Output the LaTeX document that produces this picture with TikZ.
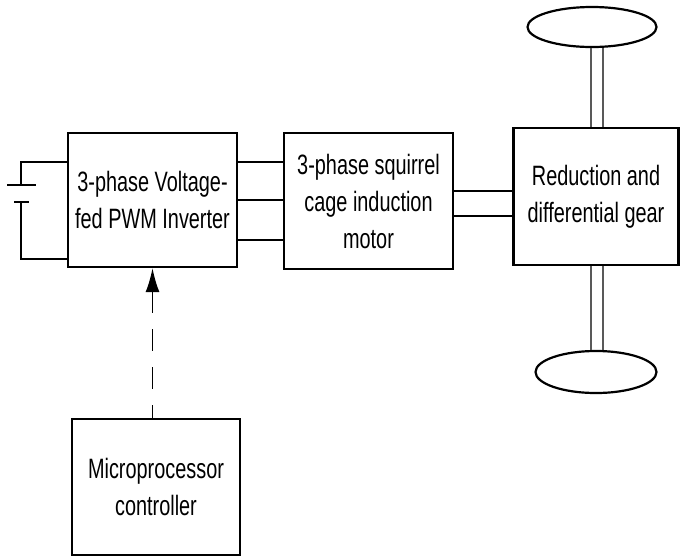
\documentclass[tikz,border=0pt]{standalone}
\usepackage{fontspec}
\setmainfont{Liberation Sans}[FakeStretch=0.71]
\usepackage{tikz}
\usetikzlibrary{arrows.meta,shapes.geometric,positioning}

\begin{document}
\begin{tikzpicture}[x=1pt,y=-1pt,
  blk/.style={draw,line width=2.2pt,align=center,inner sep=0pt,
    font=\fontsize{28}{37}\selectfont},
  wheel/.style={draw,ellipse,line width=2.2pt,inner sep=0pt},
  wire/.style={line width=2.2pt},
  shaft/.style={line width=1.5pt,gray!70!black},
  ctrl/.style={line width=1.6pt,dash pattern=on 22pt off 16pt,
    {Latex[length=24pt,width=14pt]}-}]
\useasboundingbox (0,0) rectangle (680,557);
% blocks
\node[blk,minimum width=169pt,minimum height=134pt](inv) at (152.5,200)
  {3-phase Voltage-\\fed PWM Inverter};
\node[blk,minimum width=169pt,minimum height=136pt](mot) at (368.5,201)
  {3-phase squirrel\\cage induction\\motor};
\node[blk,minimum width=165pt,minimum height=137pt](gear) at (596,196.5)
  {Reduction and\\differential gear};
\node[blk,minimum width=168pt,minimum height=136pt](mic) at (156,487)
  {Microprocessor\\controller};
% wheels
\node[wheel,minimum width=129pt,minimum height=40pt](wt) at (592,27){};
\node[wheel,minimum width=121pt,minimum height=42pt](wb) at (596,372){};
% battery
\coordinate (bp) at (21,185);
\coordinate (bn) at (21,202);
\draw[wire]([yshift=38pt]inv.west)-|(bp);
\draw[wire]([xshift=-14pt]bp)--([xshift=15pt]bp);
\draw[wire]([xshift=-7pt]bn)--([xshift=8pt]bn);
\draw[wire](bn)|-([yshift=-59pt]inv.west);
% three phases
\foreach \s in {38,0,-40}
  \draw[wire]([yshift=\s pt]inv.east)--([yshift=\s pt]inv.east -| mot.west);
% motor shaft
\foreach \s in {10,-15}
  \draw[wire]([yshift=\s pt]mot.east)--([yshift=\s pt]mot.east -| gear.west);
% axles
\foreach \s in {-5,7}{
  \draw[shaft]([xshift=\s pt]gear.north)--([xshift=\s pt]gear.north |- wt.south);
  \draw[shaft]([xshift=\s pt]gear.south)--([xshift=\s pt]gear.south |- wb.north);
}
% control signal
\draw[ctrl](inv.south)--(inv.south |- mic.north);
\end{tikzpicture}
\end{document}
